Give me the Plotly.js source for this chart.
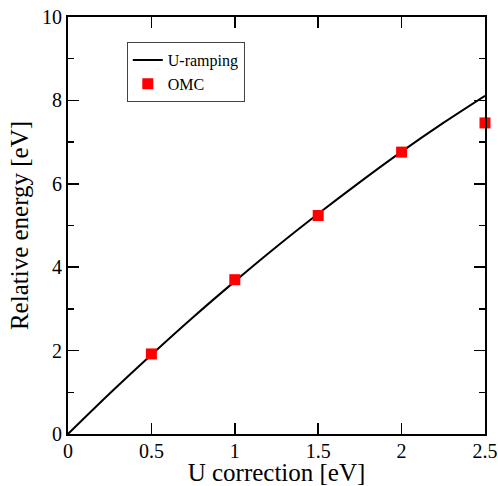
<!DOCTYPE html>
<html>
<head>
<meta charset="utf-8">
<script src="https://cdn.plot.ly/plotly-3.0.1.min.js"></script>
<style>html,body{margin:0;padding:0;background:#fff}#chart{width:498px;height:486px}</style>
</head>
<body>
<div id="chart"></div>
<script>
const rampX = [0, 0.25, 0.5, 0.75, 1.0, 1.25, 1.5, 1.75, 2.0, 2.25, 2.5];
const rampY = [0, 0.97, 1.90, 2.80, 3.66, 4.49, 5.28, 6.04, 6.77, 7.46, 8.11];
const omcX = [0.5, 1.0, 1.5, 2.0, 2.5];
const omcY = [1.92, 3.70, 5.24, 6.76, 7.46];
const xTicks = [0, 0.5, 1, 1.5, 2, 2.5];
const xTickText = ["0", "0.5", "1", "1.5", "2", "2.5"];
const yTicks = [0, 2, 4, 6, 8, 10];
const yTickText = ["0", "2", "4", "6", "8", "10"];

const font = "'Liberation Serif', 'Times New Roman', 'DejaVu Serif', serif";

const traces = [
  {x: rampX, y: rampY, mode: "lines", name: "U-ramping",
   line: {color: "#000", width: 2, shape: "spline", smoothing: 0.8}, cliponaxis: false},
  {x: omcX, y: omcY, mode: "markers", name: "OMC",
   marker: {symbol: "square", size: 11, color: "#ff0000"}, cliponaxis: false}
];

const axisCommon = {
  showgrid: false, zeroline: false, showline: true, linecolor: "#000", linewidth: 2,
  mirror: "allticks", ticks: "inside", ticklen: 11, tickwidth: 1.5, tickcolor: "#000",
  tickfont: {family: font, size: 20, color: "#000"}, ticklabeloverflow: "allow"
};

const layout = {
  width: 498, height: 486,
  margin: {l: 68, r: 13, t: 17, b: 52},
  font: {family: font, color: "#000"},
  paper_bgcolor: "#fff", plot_bgcolor: "#fff",
  showlegend: true,
  legend: {x: 0.141, y: 0.94, xanchor: "left", yanchor: "top",
           bgcolor: "#fff", bordercolor: "#444", borderwidth: 1,
           font: {family: font, size: 16, color: "#000"},
           tracegroupgap: 0},
  xaxis: Object.assign({}, axisCommon, {
    range: [0, 2.5], tickmode: "array", tickvals: xTicks, ticktext: xTickText,
    ticklabelstandoff: -2,
    title: {text: "U correction [eV]", font: {family: font, size: 25, color: "#000"}, standoff: 3}
  }),
  yaxis: Object.assign({}, axisCommon, {
    range: [0, 10], tickmode: "array", tickvals: yTicks, ticktext: yTickText,
    minor: {ticks: "inside", ticklen: 6, tickwidth: 1.5, tickcolor: "#000", dtick: 1, showgrid: false},
    title: {text: "Relative energy [eV]", font: {family: font, size: 25, color: "#000"}, standoff: 6}
  })
};

Plotly.newPlot("chart", traces, layout, {displayModeBar: false, staticPlot: true});
</script>
</body>
</html>
